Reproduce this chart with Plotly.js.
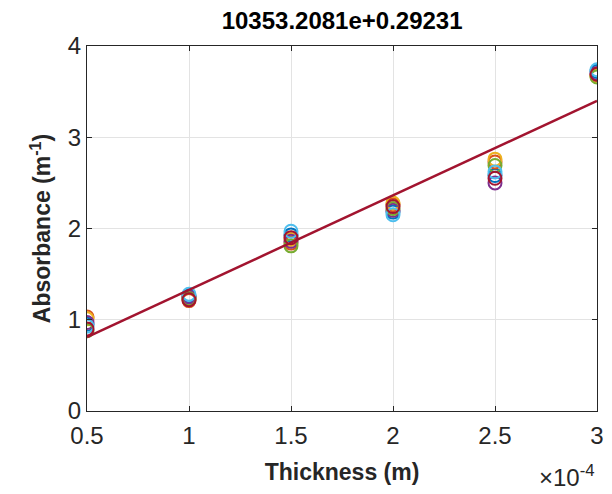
<!DOCTYPE html>
<html>
<head>
<meta charset="utf-8">
<script src="https://cdn.plot.ly/plotly-3.0.1.min.js"></script>
<style>html,body{margin:0;padding:0;background:#fff;}#chart{width:612px;height:494px;}</style>
</head>
<body>
<div id="chart"></div>
<script>
// Sample thickness (m) and measured absorbance for each repeated run
const thickness = [0.5e-4, 1.0e-4, 1.5e-4, 2.0e-4, 2.5e-4, 3.0e-4];
const run1 = [0.95, 1.26, 1.93, 2.18, 2.58, 3.72];
const run2 = [1.03, 1.21, 1.84, 2.26, 2.73, 3.68];
const run3 = [1.01, 1.24, 1.88, 2.28, 2.76, 3.67];
const run4 = [0.97, 1.25, 1.86, 2.20, 2.50, 3.70];
const run5 = [0.88, 1.23, 1.81, 2.22, 2.69, 3.66];
const run6 = [0.93, 1.28, 1.97, 2.15, 2.62, 3.74];
const run7 = [0.90, 1.22, 1.90, 2.24, 2.55, 3.69];
const runs = [run1, run2, run3, run4, run5, run6, run7];
const runColors = ['#0072BD', '#D95319', '#EDB120', '#7E2F8E', '#77AC30', '#4DBEEE', '#A2142F'];

// Linear fit: absorbance = slope * thickness + intercept
const slope = 10353.2081;
const intercept = 0.29231;
const fitX = [0.5e-4, 3.0e-4];
const fitY = fitX.map(x => slope * x + intercept);

const FONT = 'Liberation Sans, Arial, sans-serif';

const traces = runs.map((ys, i) => ({
  x: thickness, y: ys, type: 'scatter', mode: 'markers',
  marker: {symbol: 'circle-open', size: 13, color: runColors[i], line: {width: 2, color: runColors[i]}},
  hoverinfo: 'x+y', showlegend: false
}));
traces.push({
  x: fitX, y: fitY, type: 'scatter', mode: 'lines',
  line: {color: '#A2142F', width: 2.5}, showlegend: false
});

const axisCommon = {
  showline: true, mirror: 'ticks', linecolor: '#262626', linewidth: 1,
  ticks: 'inside', ticklen: 5, tickcolor: '#262626',
  showgrid: true, gridcolor: '#e3e3e3', gridwidth: 1, zeroline: false,
  tickfont: {family: FONT, size: 24, color: '#262626'}
};

const layout = {
  width: 612, height: 494,
  margin: {l: 87, r: 15, t: 46, b: 83},
  paper_bgcolor: '#ffffff', plot_bgcolor: '#ffffff',
  title: {
    text: '<b>10353.2081e+0.29231</b>',
    font: {family: FONT, size: 24, color: '#000'},
    x: 0.559, xanchor: 'center', y: 0.958, yanchor: 'middle'
  },
  xaxis: Object.assign({}, axisCommon, {
    range: [0.5e-4, 3.0e-4],
    tickvals: [0.5e-4, 1e-4, 1.5e-4, 2e-4, 2.5e-4, 3e-4],
    ticktext: ['0.5', '1', '1.5', '2', '2.5', '3'],
    ticklabelstandoff: 3,
    title: {text: '<b>Thickness (m)</b>', standoff: 16,
      font: {family: FONT, size: 23, color: '#262626'}}
  }),
  yaxis: Object.assign({}, axisCommon, {
    range: [0, 4], tickvals: [0, 1, 2, 3, 4],
    title: {text: '<b>Absorbance (m<sup>-1</sup>)</b>', standoff: 10,
      font: {family: FONT, size: 23, color: '#262626'}}
  }),
  annotations: [{
    xref: 'paper', yref: 'paper', x: 1.0, y: -0.178, xanchor: 'right', yanchor: 'middle',
    text: '\u00d710<sup>-4</sup>', showarrow: false,
    font: {family: FONT, size: 24, color: '#262626'}
  }]
};

Plotly.newPlot('chart', traces, layout, {displayModeBar: false, staticPlot: true});
</script>
</body>
</html>
